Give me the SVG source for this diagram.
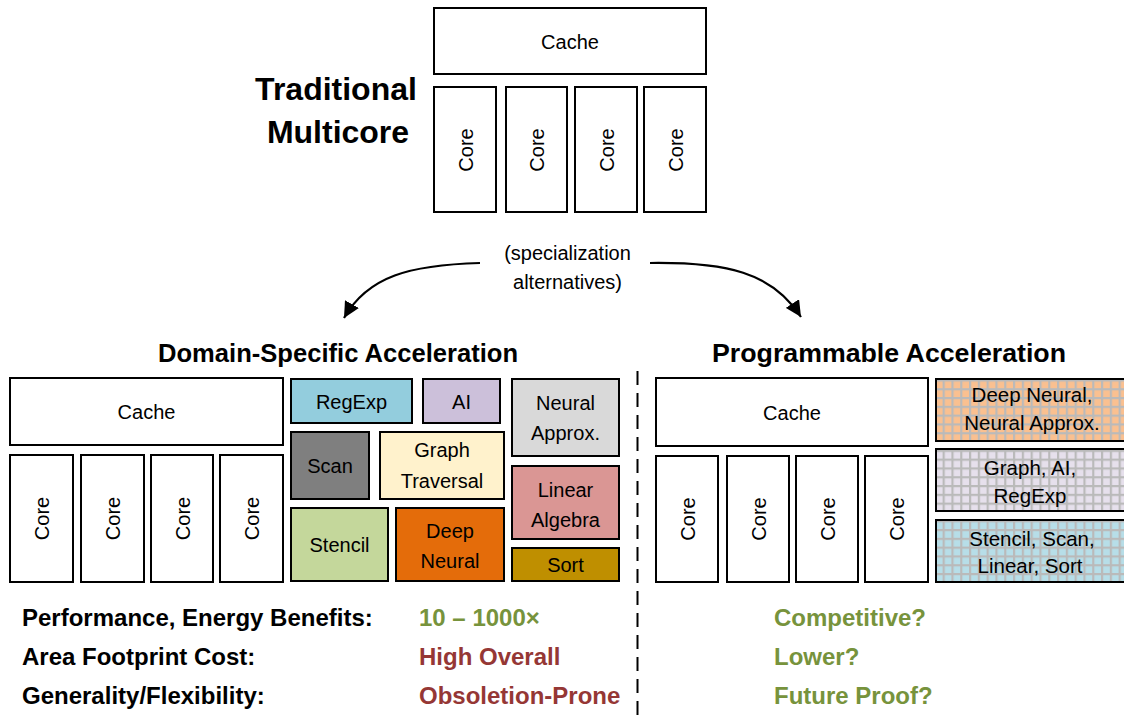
<svg xmlns="http://www.w3.org/2000/svg" width="1124" height="719" viewBox="0 0 1124 719">
  <style>
    text { font-family: "Liberation Sans", Arial, sans-serif; fill: #000; }
    .box { stroke: #000; stroke-width: 2; }
    .plain { fill: #fff; }
    .lbl { font-size: 20px; text-anchor: middle; }
    .plbl { font-size: 20.5px; text-anchor: middle; }
    .core { font-size: 20px; text-anchor: middle; }
    .head { font-weight: bold; font-size: 25px; }
    .big { font-weight: bold; font-size: 32px; text-anchor: middle; }
    .row { font-weight: bold; font-size: 24px; }
    .green { fill: #77933C; }
    .red { fill: #953735; }
    .conn { fill: none; stroke: #000; stroke-width: 2.2; }
  </style>
  <defs>
    <marker id="arrow" markerUnits="userSpaceOnUse" markerWidth="17" markerHeight="16" refX="16" refY="8" orient="auto">
      <path d="M0,0 L16,8 L0,16 Z" fill="#000"/>
    </marker>
    <pattern id="grid" patternUnits="userSpaceOnUse" x="1" y="1" width="8.8" height="8.8">
      <rect x="0" y="0" width="2.2" height="8.8" fill="#bababa"/>
      <rect x="0" y="0" width="8.8" height="2.2" fill="#bababa"/>
    </pattern>
  </defs>

  <rect width="1124" height="719" fill="#fff"/>

  <!-- Traditional multicore -->
  <g id="traditional-title">
    <text class="big" x="336" y="100">Traditional</text>
    <text class="big" x="338" y="143">Multicore</text>
  </g>
  <g id="top-cache">
    <rect class="box plain" x="434" y="8" width="272" height="66"/>
    <text class="lbl" x="570" y="49">Cache</text>
  </g>
  <g id="top-core-1">
    <rect class="box plain" x="434" y="87" width="62" height="125"/>
    <text class="core" transform="translate(472.5,150) rotate(-90)">Core</text>
  </g>
  <g id="top-core-2">
    <rect class="box plain" x="506" y="87" width="61" height="125"/>
    <text class="core" transform="translate(544,150) rotate(-90)">Core</text>
  </g>
  <g id="top-core-3">
    <rect class="box plain" x="575" y="87" width="62" height="125"/>
    <text class="core" transform="translate(613.5,150) rotate(-90)">Core</text>
  </g>
  <g id="top-core-4">
    <rect class="box plain" x="644" y="87" width="62" height="125"/>
    <text class="core" transform="translate(682.5,150) rotate(-90)">Core</text>
  </g>

  <!-- split label -->
  <g id="split-label">
    <text class="lbl" x="567.5" y="260" font-size="21">(specialization</text>
    <text class="lbl" x="567.5" y="289" font-size="21">alternatives)</text>
  </g>

  <!-- connectors -->
  <g id="connectors">
    <path class="conn" d="M480,263 C410,265 368,276 344,318" marker-end="url(#arrow)"/>
    <path class="conn" d="M650,263 C726,262 772,272 801,317" marker-end="url(#arrow)"/>
    <line x1="637.5" y1="371" x2="637.5" y2="719" stroke="#000" stroke-width="2" stroke-dasharray="14 8"/>
  </g>

  <!-- Domain-specific acceleration -->
  <g id="domain-title">
    <text class="head" x="338" y="362" text-anchor="middle" textLength="360" lengthAdjust="spacingAndGlyphs">Domain-Specific Acceleration</text>
  </g>
  <g id="ds-cache">
    <rect class="box plain" x="10" y="378" width="273" height="67"/>
    <text class="lbl" x="146.5" y="419">Cache</text>
  </g>
  <g id="ds-core-1">
    <rect class="box plain" x="10" y="455" width="63" height="127"/>
    <text class="core" transform="translate(49,518.5) rotate(-90)">Core</text>
  </g>
  <g id="ds-core-2">
    <rect class="box plain" x="81" y="455" width="63" height="127"/>
    <text class="core" transform="translate(120,518.5) rotate(-90)">Core</text>
  </g>
  <g id="ds-core-3">
    <rect class="box plain" x="151" y="455" width="62" height="127"/>
    <text class="core" transform="translate(189.5,518.5) rotate(-90)">Core</text>
  </g>
  <g id="ds-core-4">
    <rect class="box plain" x="220" y="455" width="63" height="127"/>
    <text class="core" transform="translate(259,518.5) rotate(-90)">Core</text>
  </g>

  <g id="acc-regexp">
    <rect class="box" x="291" y="379" width="121" height="44" fill="#93CDDD"/>
    <text class="lbl" x="351.5" y="409">RegExp</text>
  </g>
  <g id="acc-ai">
    <rect class="box" x="423" y="379" width="77" height="44" fill="#CCC0DA"/>
    <text class="lbl" x="461.5" y="409">AI</text>
  </g>
  <g id="acc-neural-approx">
    <rect class="box" x="512" y="379" width="107" height="77" fill="#D9D9D9"/>
    <text class="lbl" x="565.5" y="410">Neural</text>
    <text class="lbl" x="565.5" y="440">Approx.</text>
  </g>
  <g id="acc-scan">
    <rect class="box" x="291" y="432" width="78" height="67" fill="#7F7F7F"/>
    <text class="lbl" x="330" y="473">Scan</text>
  </g>
  <g id="acc-graph">
    <rect class="box" x="380" y="432" width="124" height="67" fill="#FFF2CC"/>
    <text class="lbl" x="442" y="457">Graph</text>
    <text class="lbl" x="442" y="488">Traversal</text>
  </g>
  <g id="acc-linear">
    <rect class="box" x="512" y="466" width="107" height="73" fill="#DA9694"/>
    <text class="lbl" x="565.5" y="497">Linear</text>
    <text class="lbl" x="565.5" y="527">Algebra</text>
  </g>
  <g id="acc-stencil">
    <rect class="box" x="291" y="508" width="97" height="73" fill="#C4D79B"/>
    <text class="lbl" x="339.5" y="552">Stencil</text>
  </g>
  <g id="acc-deep">
    <rect class="box" x="396" y="508" width="108" height="73" fill="#E46C0A"/>
    <text class="lbl" x="450" y="538">Deep</text>
    <text class="lbl" x="450" y="568">Neural</text>
  </g>
  <g id="acc-sort">
    <rect class="box" x="512" y="548" width="107" height="33" fill="#BF8F00"/>
    <text class="lbl" x="565.5" y="572">Sort</text>
  </g>

  <!-- Programmable acceleration -->
  <g id="prog-title">
    <text class="head" x="889" y="362" text-anchor="middle" textLength="354" lengthAdjust="spacingAndGlyphs">Programmable Acceleration</text>
  </g>
  <g id="pa-cache">
    <rect class="box plain" x="656" y="378" width="272" height="68"/>
    <text class="lbl" x="792" y="420">Cache</text>
  </g>
  <g id="pa-core-1">
    <rect class="box plain" x="656" y="456" width="62" height="126"/>
    <text class="core" transform="translate(694.5,519) rotate(-90)">Core</text>
  </g>
  <g id="pa-core-2">
    <rect class="box plain" x="727" y="456" width="62" height="126"/>
    <text class="core" transform="translate(765.5,519) rotate(-90)">Core</text>
  </g>
  <g id="pa-core-3">
    <rect class="box plain" x="796" y="456" width="62" height="126"/>
    <text class="core" transform="translate(834.5,519) rotate(-90)">Core</text>
  </g>
  <g id="pa-core-4">
    <rect class="box plain" x="865" y="456" width="63" height="126"/>
    <text class="core" transform="translate(904,519) rotate(-90)">Core</text>
  </g>

  <g id="pa-neural">
    <rect x="936" y="379" width="200" height="62" fill="#FAC090"/>
    <rect class="box" x="936" y="379" width="200" height="62" fill="url(#grid)"/>
    <text class="plbl" x="1032" y="402">Deep Neural,</text>
    <text class="plbl" x="1032" y="430">Neural Approx.</text>
  </g>
  <g id="pa-graph">
    <rect x="936" y="449" width="200" height="62" fill="#E6E0EC"/>
    <rect class="box" x="936" y="449" width="200" height="62" fill="url(#grid)"/>
    <text class="plbl" x="1030" y="475">Graph, AI,</text>
    <text class="plbl" x="1030" y="503">RegExp</text>
  </g>
  <g id="pa-stencil">
    <rect x="936" y="520" width="200" height="62" fill="#B7DEE8"/>
    <rect class="box" x="936" y="520" width="200" height="62" fill="url(#grid)"/>
    <text class="plbl" x="1032" y="546">Stencil, Scan,</text>
    <text class="plbl" x="1030" y="573">Linear, Sort</text>
  </g>

  <!-- comparison rows -->
  <g id="comparison">
    <text class="row" x="22" y="626">Performance, Energy Benefits:</text>
    <text class="row" x="22" y="665">Area Footprint Cost:</text>
    <text class="row" x="22" y="704">Generality/Flexibility:</text>
    <text class="row green" x="419" y="626">10 – 1000×</text>
    <text class="row red" x="419" y="665">High Overall</text>
    <text class="row red" x="419" y="704">Obsoletion-Prone</text>
    <text class="row green" x="774" y="626">Competitive?</text>
    <text class="row green" x="774" y="665">Lower?</text>
    <text class="row green" x="774" y="704">Future Proof?</text>
  </g>
</svg>
